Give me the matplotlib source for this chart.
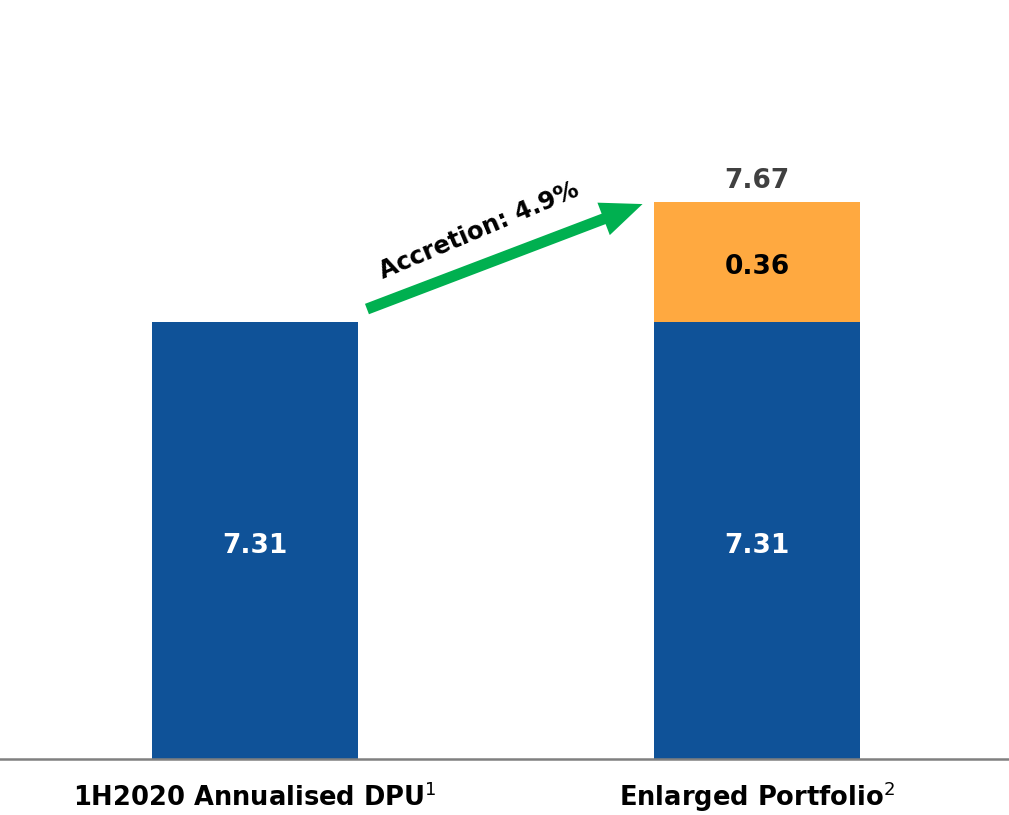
import matplotlib
matplotlib.use("Agg")
import matplotlib.pyplot as plt
import numpy as np

categories = ["1H2020 Annualised DPU", "Enlarged Portfolio"]
superscripts = ["1", "2"]
base_values = [7.31, 7.31]
increment_values = [0.0, 0.36]
total_label = "7.67"
accretion_text = "Accretion: 4.9%"

blue = "#0F5298"
orange = "#FFA940"
green = "#00B050"

plt.rcParams['font.family'] = ['DejaVu Sans']

fig = plt.figure(figsize=(10.09, 8.15), dpi=100)
ax = fig.add_axes([0, 1 - 759/815, 1, 759/815])

x = np.arange(len(categories))
width = 0.41
ybottom = 6.0
ax.bar(x, np.array(base_values) - ybottom, width, bottom=ybottom, color=blue, zorder=2)
ax.bar(x[1], increment_values[1], width, bottom=base_values[1], color=orange, zorder=2)

ax.set_xlim(-0.508, 1.502)
ax.set_ylim(ybottom, ybottom + 759/333.3)

off = 0.015
for xi, v in zip(x, base_values):
    ax.text(xi, ybottom + (v - ybottom) / 2 - off, f"{v:.2f}", ha="center", va="center",
            color="white", fontsize=19, fontweight="bold")
ax.text(x[1], base_values[1] + increment_values[1] / 2 - off, f"{increment_values[1]:.2f}",
        ha="center", va="center", color="black", fontsize=19, fontweight="bold")
ax.text(x[1], base_values[1] + increment_values[1] + 0.04 - off, total_label, ha="center", va="bottom",
        color="#404040", fontsize=19, fontweight="bold")

# accretion arrow
top1 = base_values[0]
top2 = base_values[1] + increment_values[1]
ax.annotate("", xy=(x[1] - width/2 - 0.023, top2 - 0.005), xytext=(0.223, top1 + 0.04),
            arrowprops=dict(arrowstyle="simple,head_length=1.2,head_width=1.0,tail_width=0.32",
                            mutation_scale=25, color=green, lw=0, shrinkA=0, shrinkB=0), zorder=3)
ax.text(0.446, 7.585, accretion_text, rotation=23, ha="center", va="center",
        fontsize=17.5, fontweight="bold", color="black", rotation_mode="anchor")

for s in ["top", "right", "left"]:
    ax.spines[s].set_visible(False)
ax.spines["bottom"].set_color("#808080")
ax.spines["bottom"].set_linewidth(1.8)
ax.spines["bottom"].set_zorder(3)
ax.set_yticks([])
ax.set_xticks(x)
ax.set_xticklabels([f"{c}$^{{{s}}}$" for c, s in zip(categories, superscripts)],
                   fontsize=18.5, fontweight="bold")
for lbl in ax.get_xticklabels():
    lbl.set_verticalalignment("baseline")
ax.tick_params(axis="x", length=0, pad=34)

fig.savefig("out.png", dpi=100)
